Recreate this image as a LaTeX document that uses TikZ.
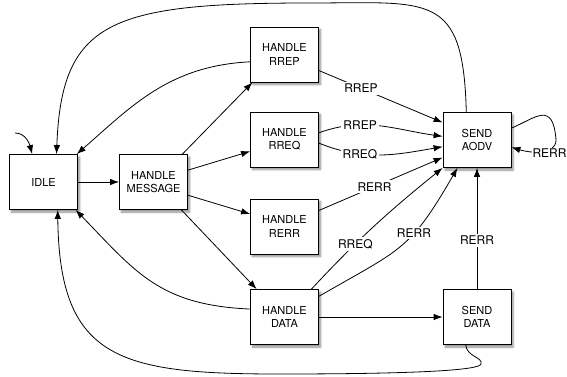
\documentclass[tikz,border=0pt]{standalone}
\usepackage{fontspec}
\setmainfont{TeX Gyre Heros}
\usetikzlibrary{arrows.meta}
\usetikzlibrary{shadows.blur}

\begin{document}
\begin{tikzpicture}[x=1pt,y=-1pt,line width=0.8pt,>={Latex[length=9pt,width=6.5pt]},
  state/.style={draw,fill=white,minimum width=68pt,minimum height=55pt,align=center,
    font=\fontsize{11}{13.5}\selectfont,
    blur shadow={shadow xshift=2pt,shadow yshift=-2.5pt,shadow blur steps=6,shadow opacity=45}},
  lbl/.style={fill=white,inner sep=2pt,font=\fontsize{12}{14}\selectfont}]
\useasboundingbox (0,0) rectangle (567,377);

\node[state] (idle) at (43.5,182) {IDLE};
\node[state] (msg) at (153.5,182) {HANDLE\\MESSAGE};
\node[state] (rrep) at (284.5,54.5) {HANDLE\\RREP};
\node[state] (rreq) at (284.5,139.5) {HANDLE\\RREQ};
\node[state] (rerr) at (284.5,226.5) {HANDLE\\RERR};
\node[state] (data) at (284.5,317) {HANDLE\\DATA};
\node[state] (aodv) at (477,140) {SEND\\AODV};
\node[state] (sdata) at (477,317) {SEND\\DATA};
\coordinate (init) at (15,133);

\draw[->] (init) to[out=0,in=105] (idle.112);
\draw[->] (idle) -- (msg);
\draw[->] (msg.44) -- (rrep.221);
\draw[->] (msg.19) -- (rreq.199);
\draw[->] (msg.-21) -- (rerr.160);
\draw[->] (msg.-45) -- (data.135);
\draw[->] (data) -- (sdata);

\draw[->] (rrep.192) .. controls +(-81,4) and +(55,-48) .. (idle.40);
\draw[->] (data.167) .. controls +(-91,-4) and +(60,62) .. (idle.-41);
\draw[->] (aodv.111) .. controls +(-3,-121) and +(120,0) .. (310,3)
  .. controls +(-200,0) and +(5,-133) .. (idle.65);
\draw[->] (sdata.-112) .. controls +(1,12) and +(2,-7) .. (481,364)
  .. controls +(-1,6) and +(140,0) .. (280,374)
  .. controls +(-160,0) and +(1.5,150) .. (idle.-63);

\draw[->] (rrep.-25) -- node[lbl,pos=0.34] {RREP} (aodv.153);
\draw[->] (rreq.11) to[out=20,in=172] node[lbl,pos=0.33] {RREP} (aodv.174);
\draw[->] (rreq.-6) to[out=-22,in=190] node[lbl,pos=0.33] {RREQ} (aodv.191);
\draw[->] (rerr.25) -- node[lbl,pos=0.45] {RERR} (aodv.207);
\draw[->] (data.46) to[out=47,in=219] node[lbl,pos=0.34] {RREQ} (aodv.south west);
\draw[->] (data.31) to[out=30,in=240,looseness=1.3] node[lbl,pos=0.62] {RERR} (aodv.235);
\draw[->] (sdata) -- node[lbl,pos=0.4] {RERR} (aodv);
\draw[->] (aodv.19) .. controls +(24,-10) and +(-3,-40) .. (556,140)
  .. controls +(0,15) and +(20,6) .. (aodv.-12);
\node[lbl,inner sep=1pt] (loop) at (549.5,153) {RERR};
\end{tikzpicture}
\end{document}
